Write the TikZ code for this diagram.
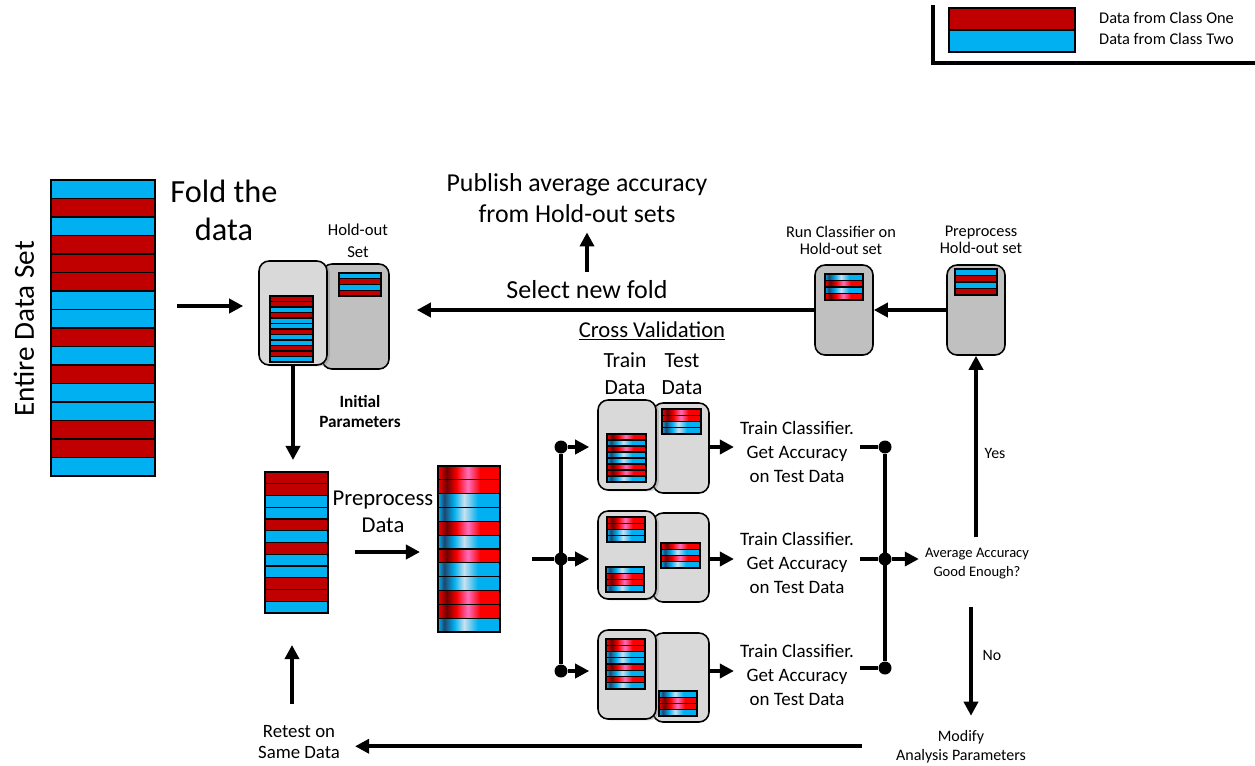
\documentclass[tikz,border=0pt]{standalone}
\usepackage{fontspec}
\setmainfont{Carlito}
\usetikzlibrary{arrows.meta, shadows, positioning}

\definecolor{classone}{RGB}{192,0,0}
\definecolor{classtwo}{RGB}{0,176,240}
\definecolor{boxlight}{RGB}{217,217,217}
\definecolor{boxdark}{RGB}{192,192,192}
\definecolor{hotred}{RGB}{250,0,0}
\definecolor{deepred}{RGB}{110,0,0}
\definecolor{pinkred}{RGB}{255,110,190}
\definecolor{deepblue}{RGB}{30,70,110}
\definecolor{paleblue}{RGB}{200,225,240}

% preprocessed bars: shaded across their width
\pgfdeclarehorizontalshading{redbar}{100bp}{color(0bp)=(hotred); color(25bp)=(hotred);
  color(32bp)=(deepred); color(40bp)=(hotred); color(49bp)=(pinkred);
  color(59bp)=(hotred); color(75bp)=(hotred); color(100bp)=(hotred)}
\pgfdeclarehorizontalshading{bluebar}{100bp}{color(0bp)=(classtwo); color(25bp)=(classtwo);
  color(30bp)=(deepblue); color(38bp)=(classtwo); color(46bp)=(paleblue);
  color(57bp)=(classtwo); color(75bp)=(classtwo); color(100bp)=(classtwo)}

\tikzset{
  barr/.style={draw=black, line width=0.7pt, fill=classone},
  barb/.style={draw=black, line width=0.7pt, fill=classtwo},
  barR/.style={draw=black, line width=0.7pt, shade, shading=redbar},
  barB/.style={draw=black, line width=0.7pt, shade, shading=bluebar},
  flow/.style={line width=2.2pt, -{Triangle[length=8pt, width=8pt]}},
  bus/.style={line width=2.2pt},
  joint/.style={circle, fill=black, inner sep=0pt, minimum size=0.26cm},
  frontbox/.style={draw, line width=0.9pt, rounded corners=0.2cm, fill=boxlight, inner sep=0pt,
    drop shadow={shadow xshift=1.6pt, shadow yshift=-0.8pt, opacity=0.35}},
  backbox/.style={draw, line width=0.9pt, rounded corners=0.2cm, fill=#1, inner sep=0pt},
  backbox/.default=boxlight
}

% x, top y, width, bar height, list of bars
\newcommand{\datastack}[5]{%
  \foreach \c [count=\i from 0] in {#5}
    \draw[bar\c] (#1,{#2+\i*#4}) rectangle ++(#3,#4);
}

\begin{document}
\begin{tikzpicture}[x=0.02cm, y=-0.02cm]
	\useasboundingbox (0,0) rectangle (1255,765);
	
	% legend
	\draw[line width=2.3pt] (933,5) -- (933,63) -- (1255,63);
	\draw[barr, line width=1.2pt] (949,8) rectangle (1075,30);
	\draw[barb, line width=1.2pt] (949,30) rectangle (1075,52);
	\node[anchor=base west, font=\fontsize{9.3}{11}\selectfont] (lgone) at (1093,23.5) {Data from Class One};
	\node[anchor=base west, font=\fontsize{9.3}{11}\selectfont] (lgtwo) at (1093,44) {Data from Class Two};
	
	% whole data set and the first fold
	\datastack{51}{180}{104}{18.5}{b,r,b,r,r,r,b,b,r,b,r,b,b,r,r,b}
	\node[rotate=90, font=\fontsize{16.6}{19}\selectfont] (setlbl) at (24,329) {Entire Data Set};
	\node[anchor=base, align=center, font=\fontsize{18.4}{21.5}\selectfont] (foldlbl) at (224,240) {Fold the\\data};
	
	\node[backbox=boxdark, minimum width=1.34cm, minimum height=2.1cm] (holdback) at (355.5,316.5) {};
	\node[frontbox, minimum width=1.36cm, minimum height=2.08cm] (holdfront) at (293,313) {};
	\datastack{270}{296}{43}{5.5}{r,r,b,r,b,b,r,b,b,r,r,b}
	\datastack{339}{273}{42}{5.75}{b,r,b,r}
	\node[anchor=base, align=center, font=\fontsize{9.5}{12}\selectfont] (holdlbl) at (358,257) {Hold-out\\Set};
	\node[anchor=base, align=center, font=\fontsize{9.8}{11.3}\selectfont\bfseries] (initlbl) at (360,427) {Initial\\Parameters};
	
	% preprocessing
	\datastack{265}{472}{63}{11.75}{r,r,b,b,r,b,r,b,b,r,r,b}
	\datastack{438}{466}{62}{13.83}{R,R,B,B,R,B,R,B,B,R,R,B}
	\node[anchor=base, align=center, font=\fontsize{12.9}{15.3}\selectfont] (preplbl) at (383,532) {Preprocess\\Data};
	\coordinate (foldin) at (177,306);
	\coordinate (rawtop) at (296,472);
	\coordinate (rawbot) at (296,613);
	\coordinate (prepin) at (355,552);
	\coordinate (prepleft) at (438,552);
	\coordinate (cvin) at (532,559);
	
	% cross validation folds
	\node[anchor=base, font=\fontsize{12.9}{15}\selectfont] (cvlbl) at (652,337) {\underline{Cross Validation}};
	\node[anchor=base, align=center, font=\fontsize{12.3}{15.3}\selectfont] (trainlbl) at (625,394) {Train\\Data};
	\node[anchor=base, align=center, font=\fontsize{12.3}{15.3}\selectfont] (testlbl) at (682,394) {Test\\Data};
	
	\node[backbox, minimum width=1.12cm, minimum height=1.8cm] (foldback1) at (681,448) {};
	\node[frontbox, minimum width=1.16cm, minimum height=1.8cm] (foldfront1) at (627,445) {};
	\datastack{607}{434}{39}{6}{R,B,R,B,B,R,R,B}
	\datastack{662}{409}{39}{6.25}{R,R,B,B}
	
	\node[backbox, minimum width=1.12cm, minimum height=1.78cm] (foldback2) at (681,557.5) {};
	\node[frontbox, minimum width=1.16cm, minimum height=1.76cm] (foldfront2) at (627,555) {};
	\datastack{607}{517}{38}{6.25}{R,R,B,B}
	\datastack{606}{567}{38}{6.25}{B,R,R,B}
	\datastack{661}{543}{39}{6.25}{R,B,R,B}
	
	\node[backbox, minimum width=1.12cm, minimum height=1.78cm] (foldback3) at (681,677.5) {};
	\node[frontbox, minimum width=1.16cm, minimum height=1.78cm] (foldfront3) at (627,674.5) {};
	\datastack{606}{639}{39}{6.25}{R,R,B,B,R,B,R,B}
	\datastack{659}{691}{38}{6.25}{B,R,R,B}
	
	\node[anchor=base, align=center, font=\fontsize{10.8}{13.6}\selectfont] (acc1) at (797,482) {Train Classifier.\\Get Accuracy\\on Test Data};
	\node[anchor=base, align=center, font=\fontsize{10.8}{13.6}\selectfont] (acc2) at (797,593) {Train Classifier.\\Get Accuracy\\on Test Data};
	\node[anchor=base, align=center, font=\fontsize{10.8}{13.6}\selectfont] (acc3) at (797,705) {Train Classifier.\\Get Accuracy\\on Test Data};
	
	\node[joint] (jl1) at (561,447) {};
	\node[joint] (jl2) at (561,559) {};
	\node[joint] (jl3) at (561,671) {};
	\node[joint] (jr1) at (885,447) {};
	\node[joint] (jr2) at (885,559) {};
	\node[joint] (jr3) at (885,668) {};
	
	% hold-out steps and decision
	\node[backbox=boxdark, minimum width=1.16cm, minimum height=1.8cm] (runbox) at (844,310) {};
	\node[backbox=boxdark, minimum width=1.16cm, minimum height=1.8cm] (prebox) at (976,310) {};
	\datastack{825}{274}{38}{6.5}{B,R,B,R}
	\datastack{955}{269}{42}{6.5}{b,r,b,r}
	\node[anchor=base, align=center, font=\fontsize{9.3}{9.2}\selectfont] (runlbl) at (841,254) {Run Classifier on\\Hold-out set};
	\node[anchor=base, align=center, font=\fontsize{9.3}{9.2}\selectfont] (prelbl) at (981,253) {Preprocess\\Hold-out set};
	\node[anchor=base, align=center, font=\fontsize{8.3}{10.8}\selectfont] (avg) at (977,576) {Average Accuracy\\Good Enough?};
	\node[font=\fontsize{9}{11}\selectfont] (yeslbl) at (995,453) {Yes};
	\node[anchor=base, font=\fontsize{9}{11}\selectfont] (nolbl) at (992,660) {No};
	\node[anchor=base, align=center, font=\fontsize{9.1}{10.8}\selectfont] (modify) at (961,760) {Modify\\Analysis Parameters};
	\node[anchor=base, align=center, font=\fontsize{10.7}{11.9}\selectfont] (retest) at (299,758) {Retest on\\Same Data};
	\node[anchor=base, font=\fontsize{14.8}{17}\selectfont] (select) at (587,298) {Select new fold};
	\node[anchor=base, align=center, font=\fontsize{14.7}{17.6}\selectfont] (publish) at (577,222) {Publish average accuracy\\from Hold-out sets};
	\coordinate (nostart) at (971,607);
	
	%%%%%%%%%%%%%%%%%%%%%%%%%%%%%%
	
	\draw[flow, shorten >=0.3cm] (foldin) -- (foldin -| holdfront.west);
	\draw[flow, shorten >=0.24cm] (holdfront.south) -- (holdfront.south |- rawtop);
	\draw[flow, shorten >=0.36cm] (prepin) -- (prepleft);
	
	\draw[bus] (cvin) -- (jl2);
	\draw[bus] (jl1) -- (jl3);
	\draw[flow, shorten >=0.16cm] (jl1) -- (jl1 -| foldfront1.west);
	\draw[flow, shorten >=0.16cm] (jl2) -- (jl2 -| foldfront2.west);
	\draw[flow, shorten >=0.16cm] (jl3) -- (jl3 -| foldfront3.west);
	
	\draw[flow] (foldback1.east |- jl1) -- (acc1.west |- jl1);
	\draw[flow] (foldback2.east |- jl2) -- (acc2.west |- jl2);
	\draw[flow] (foldback3.east |- jl3) -- (acc3.west |- jl3);
	
	\draw[bus] (acc1.east |- jr1) -- (jr1);
	\draw[bus] (acc2.east |- jr2) -- (jr2);
	\draw[bus] (acc3.east |- jr3) -- (jr3);
	\draw[bus] (jr1) -- (jr3);
	\draw[flow] (jr2) -- (avg.west |- jr2);
	
	\draw[flow, shorten <=0.08cm] (avg.north -| prebox.south) -- (prebox.south);
	\draw[flow, shorten >=0.16cm] (nostart) -- (nostart |- modify.north);
	\draw[flow, shorten <=0.56cm, shorten >=0.18cm] (modify.west) -- (retest.east |- modify.west);
	\draw[flow, shorten <=0.3cm, shorten >=0.64cm] ([xshift=-0.14cm]retest.north) -- ([xshift=-0.14cm]retest.north |- rawbot);
	
	\draw[flow] (prebox.west) -- (runbox.east);
	\draw[flow, shorten >=0.54cm] (runbox.west) -- (runbox.west -| holdback.east);
	\draw[flow, shorten <=0.04cm, shorten >=0.08cm] (select.north) -- (select.north |- publish.south);
	
\end{tikzpicture}
\end{document}
